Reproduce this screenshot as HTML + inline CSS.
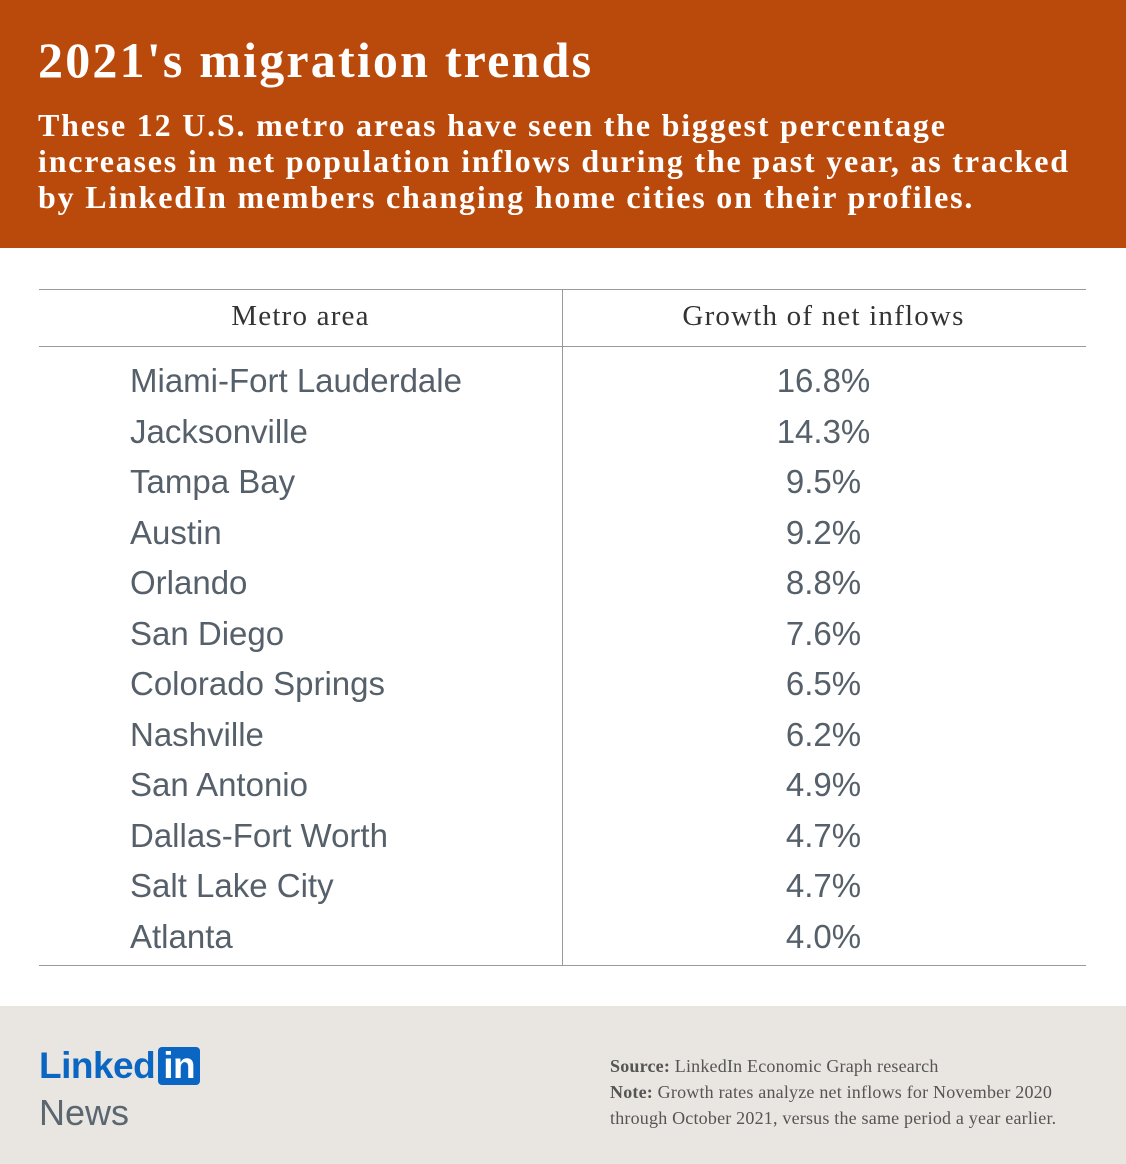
<!DOCTYPE html>
<html><head><meta charset="utf-8"><style>
body{margin:0;width:1126px;height:1164px;position:relative;background:#fff;font-family:"Liberation Sans",sans-serif;overflow:hidden}
.abs{position:absolute}
#hdr{left:0;top:0;width:1126px;height:248px;background:#BA4A0B}
#title{left:38px;top:30px;color:#fff;font-family:"Liberation Serif",serif;font-size:50px;font-weight:bold;line-height:60px;white-space:nowrap;letter-spacing:2.2px}
#sub{left:38px;top:107px;color:#fff;font-family:"Liberation Serif",serif;font-size:32px;font-weight:bold;line-height:36px;white-space:nowrap;letter-spacing:1.8px}
.hl{background:#9a9a9a;height:1px;left:39px;width:1047px}
.th{font-size:29px;color:#333;top:300px;text-align:center;width:523px;font-family:"Liberation Serif",serif;letter-spacing:1.2px}
.name{left:130px;font-size:33px;color:#56606a;white-space:nowrap}
.val{left:562px;width:523px;text-align:center;font-size:33px;color:#56606a}
#ftr{left:0;top:1006px;width:1126px;height:158px;background:#E9E5E0}
</style></head><body>
<div id="hdr" class="abs"></div>
<div id="title" class="abs">2021's migration trends</div>
<div id="sub" class="abs">These 12 U.S. metro areas have seen the biggest percentage<br>increases in net population inflows during the past year, as tracked<br>by LinkedIn members changing home cities on their profiles.</div>
<div class="abs hl" style="top:289px"></div>
<div class="abs hl" style="top:346px"></div>
<div class="abs hl" style="top:965px"></div>
<div class="abs" style="left:562px;top:289px;width:1px;height:676px;background:#9a9a9a"></div>
<div class="abs th" style="left:39px">Metro area</div>
<div class="abs th" style="left:562px">Growth of net inflows</div>
<div id="rows"></div>
<div id="ftr" class="abs"></div>
<div class="abs" style="left:39px;top:1045px;font-size:37px;font-weight:bold;color:#0A66C2;letter-spacing:-0.5px;line-height:42px">Linked<span style="display:inline-block;background:#0A66C2;color:#fff;border-radius:4px;padding:0 5px;margin-left:3px;line-height:38px">in</span></div>
<div class="abs" style="left:39px;top:1092px;font-size:36px;color:#5a6670">News</div>
<div class="abs" style="left:610px;top:1053px;font-family:'Liberation Serif',serif;font-size:18px;line-height:26px;color:#555;white-space:nowrap;letter-spacing:0.2px"><b>Source:</b> LinkedIn Economic Graph research<br><b>Note:</b> Growth rates analyze net inflows for November 2020<br>through October 2021, versus the same period a year earlier.</div>
<script>
const metros=["Miami-Fort Lauderdale","Jacksonville","Tampa Bay","Austin","Orlando","San Diego","Colorado Springs","Nashville","San Antonio","Dallas-Fort Worth","Salt Lake City","Atlanta"];
const growth=[16.8,14.3,9.5,9.2,8.8,7.6,6.5,6.2,4.9,4.7,4.7,4.0];
const rows=document.getElementById('rows');
metros.forEach((m,i)=>{
  const y=381+i*50.5-19;
  const n=document.createElement('div');
  n.className='abs name';n.style.top=y+'px';n.textContent=m;
  
  
  rows.appendChild(n);
  const v=document.createElement('div');
  v.className='abs val';v.style.top=y+'px';v.textContent=growth[i].toFixed(1)+'%';
  
  
  rows.appendChild(v);
});
</script>
</body></html>
